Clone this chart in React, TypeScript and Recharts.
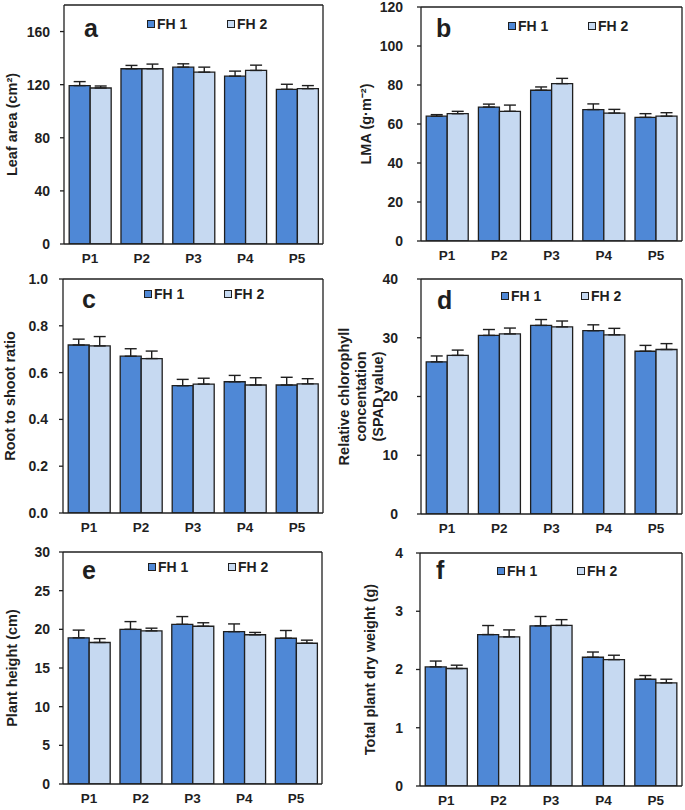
import { BarChart, Bar, XAxis, YAxis, ErrorBar, Legend, Label } from "recharts";

const categories = ["P1", "P2", "P3", "P4", "P5"];
const seriesNames = ["FH 1", "FH 2"];

// a - leaf area
const leafAreaFH1 = [119.3, 132, 133.2, 126.4, 116.5];
const leafAreaFH1Err = [3, 2.5, 2.5, 3.8, 3.8];
const leafAreaFH2 = [117.5, 132, 129.4, 130.7, 117];
const leafAreaFH2Err = [1.5, 3.5, 3.8, 4, 2.3];
const leafAreaTicks = [0, 40, 80, 120, 160];

// b - LMA
const lmaFH1 = [64, 68.7, 77.3, 67.4, 63.4];
const lmaFH1Err = [0.8, 1.5, 1.7, 2.9, 1.9];
const lmaFH2 = [65.3, 66.5, 80.7, 65.6, 64];
const lmaFH2Err = [1.2, 3.2, 2.7, 1.9, 1.8];
const lmaTicks = [0, 20, 40, 60, 80, 100, 120];

// c - root to shoot ratio
const rootShootFH1 = [0.718, 0.67, 0.544, 0.561, 0.547];
const rootShootFH1Err = [0.025, 0.032, 0.027, 0.027, 0.033];
const rootShootFH2 = [0.714, 0.66, 0.551, 0.547, 0.552];
const rootShootFH2Err = [0.04, 0.032, 0.025, 0.031, 0.022];
const rootShootTicks = [0, 0.2, 0.4, 0.6, 0.8, 1.0];

// d - chlorophyll (SPAD)
const spadFH1 = [25.9, 30.4, 32.1, 31.2, 27.7];
const spadFH1Err = [1, 1, 1, 1, 1];
const spadFH2 = [27, 30.65, 31.85, 30.5, 28];
const spadFH2Err = [0.9, 1, 1, 1.1, 1];
const spadTicks = [0, 10, 20, 30, 40];

// e - plant height
const heightFH1 = [18.9, 20, 20.65, 19.7, 18.85];
const heightFH1Err = [1, 1, 1, 1, 1];
const heightFH2 = [18.3, 19.8, 20.4, 19.3, 18.2];
const heightFH2Err = [0.5, 0.35, 0.45, 0.3, 0.4];
const heightTicks = [0, 5, 10, 15, 20, 25, 30];

// f - total dry weight
const dryFH1 = [2.045, 2.6, 2.75, 2.21, 1.833];
const dryFH1Err = [0.1, 0.155, 0.16, 0.09, 0.064];
const dryFH2 = [2.017, 2.56, 2.756, 2.17, 1.77];
const dryFH2Err = [0.057, 0.12, 0.1, 0.075, 0.063];
const dryTicks = [0, 1, 2, 3, 4];

const INK = "#1f1f1f";
const FONT = "'Liberation Sans', Arial, sans-serif";
const C1 = "#4F88D6";
const C2 = "#C6D9F1";

const makeData = (v1: number[], e1: number[], v2: number[], e2: number[]) =>
    categories.map((name, i) => ({ name, fh1: v1[i], fh2: v2[i], e1: [0, e1[i]], e2: [0, e2[i]] }));

// boxes on the right start at x=330 so the wide d title is not clipped
const panels = [
    {
        letter: "a", title: ["Leaf area (cm²)"], data: makeData(leafAreaFH1, leafAreaFH1Err, leafAreaFH2, leafAreaFH2Err),
        ticks: leafAreaTicks, max: 180, fmt: (v: number) => `${v}`,
        box: { x: 0, y: 0, w: 330, h: 270 }, plot: { L: 64, R: 323, T: 5, B: 244 },
        tm: 10, tdx: 52, ldx: 20, lby: 32, lg: { x: 147, y: 25 },
    },
    {
        letter: "b", title: ["LMA (g·m⁻²)"], data: makeData(lmaFH1, lmaFH1Err, lmaFH2, lmaFH2Err),
        ticks: lmaTicks, max: 120, fmt: (v: number) => `${v}`,
        box: { x: 330, y: 0, w: 355, h: 270 }, plot: { L: 421, R: 682, T: 7, B: 241 },
        tm: 14, tdx: 55, ldx: 15, lby: 30, lg: { x: 178, y: 27 },
    },
    {
        letter: "c", title: ["Root to shoot ratio"], data: makeData(rootShootFH1, rootShootFH1Err, rootShootFH2, rootShootFH2Err),
        ticks: rootShootTicks, max: 1, fmt: (v: number) => v.toFixed(1),
        box: { x: 0, y: 270, w: 330, h: 275 }, plot: { L: 63, R: 323, T: 279, B: 513 },
        tm: 11, tdx: 53, ldx: 19, lby: 29, lg: { x: 144, y: 25 },
    },
    {
        letter: "d", title: ["Relative chlorophyll", "concentation", "(SPAD value)"], data: makeData(spadFH1, spadFH1Err, spadFH2, spadFH2Err),
        ticks: spadTicks, max: 40, fmt: (v: number) => `${v}`,
        box: { x: 330, y: 270, w: 355, h: 275 }, plot: { L: 421, R: 682, T: 279, B: 514 },
        tm: 19, tdx: 60, ldx: 16, lby: 30, lg: { x: 171, y: 27 },
    },
    {
        letter: "e", title: ["Plant height (cm)"], data: makeData(heightFH1, heightFH1Err, heightFH2, heightFH2Err),
        ticks: heightTicks, max: 30, fmt: (v: number) => `${v}`,
        box: { x: 0, y: 545, w: 330, h: 265 }, plot: { L: 63, R: 322, T: 552, B: 784 },
        tm: 9, tdx: 51, ldx: 19, lby: 27, lg: { x: 148, y: 23 },
    },
    {
        letter: "f", title: ["Total plant dry weight (g)"], data: makeData(dryFH1, dryFH1Err, dryFH2, dryFH2Err),
        ticks: dryTicks, max: 4, fmt: (v: number) => `${v}`,
        box: { x: 330, y: 545, w: 355, h: 265 }, plot: { L: 420, R: 682, T: 553, B: 786 },
        tm: 13, tdx: 50, ldx: 16, lby: 26, lg: { x: 167, y: 27 },
    },
];

function Panel({ p }: { p: any }) {
    const { box, plot } = p;
    const axisStroke = { stroke: INK, strokeWidth: 1.3 };

    const title = (props: any) => {
        const vb = props.viewBox;
        const cx = vb.x + vb.width - p.tdx;
        const cy = vb.y + vb.height / 2;
        const n = p.title.length;
        return (
            <text transform={`rotate(-90, ${cx}, ${cy})`} x={cx} y={cy} textAnchor="middle" dominantBaseline="central"
                fontFamily={FONT} fontWeight={700} fontSize={14.5} fill={INK}>
                {p.title.map((t: string, i: number) => (
                    <tspan key={i} x={cx} dy={i === 0 ? -((n - 1) / 2) * 17 : 17}>{t}</tspan>
                ))}
            </text>
        );
    };

    const letter = (props: any) => {
        const vb = props.viewBox;
        return (
            <text x={vb.x + p.ldx} y={vb.y + 1 + p.lby} fontFamily={FONT} fontWeight={700} fontSize={25} fill={INK}>
                {p.letter}
            </text>
        );
    };

    const legend = (props: any) => (
        <div style={{ display: "flex", alignItems: "center", fontFamily: FONT, fontWeight: 700, fontSize: 14, color: INK }}>
            {(props.payload || []).map((e: any, i: number) => (
                <div key={i} style={{ display: "flex", alignItems: "center", width: 80 }}>
                    <span style={{ display: "inline-block", width: 6, height: 6, border: `1px solid ${INK}`, background: e.color, marginRight: 2 }} />
                    <span>{e.value}</span>
                </div>
            ))}
        </div>
    );

    return (
        <div style={{ position: "absolute", left: box.x, top: box.y }}>
            <BarChart width={box.w} height={box.h} data={p.data} barCategoryGap="10%" barGap={0}
                margin={{ top: plot.T - box.y - 1, right: box.x + box.w - plot.R - 1, left: plot.L - box.x - 40, bottom: 0 }}>
                <XAxis xAxisId="sep" type="number" domain={[0, 5]} ticks={[1, 2, 3, 4]} mirror height={1} tick={false}
                    axisLine={false} tickSize={5} tickLine={axisStroke} allowDataOverflow />
                <XAxis dataKey="name" height={box.y + box.h - plot.B} tickLine={false} tickSize={0} tickMargin={9}
                    axisLine={axisStroke} tick={{ fill: INK, fontSize: 13.5, fontWeight: 700, fontFamily: FONT }} />
                <XAxis xAxisId="top" orientation="top" height={1} tick={false} tickLine={false} axisLine={axisStroke}>
                    <Label content={letter} />
                </XAxis>
                <YAxis width={40} domain={[0, p.max]} ticks={p.ticks} interval={0} tickFormatter={p.fmt} tickSize={4}
                    tickMargin={p.tm} tickLine={axisStroke} axisLine={axisStroke} allowDataOverflow
                    tick={{ fill: INK, fontSize: 14, fontWeight: 700, fontFamily: FONT }}>
                    <Label content={title} />
                </YAxis>
                <YAxis yAxisId="r" orientation="right" width={1} tick={false} tickLine={false} axisLine={axisStroke} />
                <Legend layout="horizontal" verticalAlign="middle" align="center" content={legend}
                    wrapperStyle={{ left: p.lg.x, top: p.lg.y - 9, width: "auto", height: 18 }} />
                <Bar dataKey="fh1" name={seriesNames[0]} fill={C1} stroke={INK} strokeWidth={1.3} isAnimationActive={false}>
                    <ErrorBar dataKey="e1" width={6} stroke={INK} strokeWidth={1.4} isAnimationActive={false} />
                </Bar>
                <Bar dataKey="fh2" name={seriesNames[1]} fill={C2} stroke={INK} strokeWidth={1.3} isAnimationActive={false}>
                    <ErrorBar dataKey="e2" width={6} stroke={INK} strokeWidth={1.4} isAnimationActive={false} />
                </Bar>
            </BarChart>
        </div>
    );
}

export default function App() {
    return (
        <div style={{ position: "absolute", left: 0, top: 0, width: 685, height: 810, background: "#fff" }}>
            {panels.map((p) => <Panel key={p.letter} p={p} />)}
        </div>
    );
}
